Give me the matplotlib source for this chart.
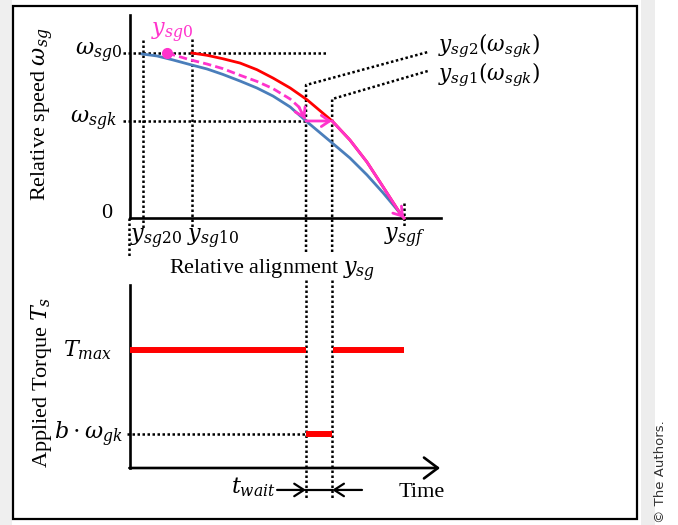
import matplotlib.pyplot as plt
from matplotlib.patches import Rectangle

plt.rcParams['font.family'] = 'Liberation Serif'
plt.rcParams['mathtext.fontset'] = 'dejavuserif'

# key positions on the alignment axis
y_sg20, y_sg0, y_sg10 = 0.42, 1.19, 1.99
y_sg2k, y_sg1k, y_sgf = 5.66, 6.50, 8.81
# speed levels
w_sg0, w_sgk = 1.0, 0.588

# blue trajectory (from y_sg20)
blue_x = [0.39, 0.87, 1.38, 1.93, 2.48, 2.99, 3.54, 4.08, 4.60, 5.15, 5.66,
          6.50, 7.07, 7.62, 8.14, 8.68, 8.81]
blue_y = [0.994, 0.982, 0.958, 0.930, 0.903, 0.870, 0.830, 0.788, 0.739, 0.673, 0.588,
          0.455, 0.364, 0.261, 0.152, 0.030, 0.0]
# red trajectory (from y_sg10)
red_x = [1.99, 2.48, 2.99, 3.54, 4.08, 4.60, 5.15, 5.69, 6.50, 7.07, 7.62, 8.14, 8.68, 8.81]
red_y = [1.0, 0.986, 0.965, 0.939, 0.899, 0.848, 0.788, 0.717, 0.588, 0.473, 0.339,
         0.188, 0.030, 0.0]
# magenta dashed path from y_sg0 down to the blue curve
dash_x = [1.19, 1.93, 2.48, 2.99, 3.54, 4.08, 4.60, 5.15, 5.43, 5.63]
dash_y = [1.0, 0.959, 0.933, 0.905, 0.865, 0.828, 0.784, 0.721, 0.673, 0.600]
# magenta solid path riding the red curve after the wait
pink_x = red_x[8:]
pink_y = red_y[8:]

# torque schedule
t_on1 = [0.0, y_sg2k]
t_on2 = [6.53, y_sgf]
t_wait = [y_sg2k, y_sg1k]
T_max, b_wgk = 1.0, 0.288

BLUE = '#4a7ebb'
RED = '#ff0000'
PINK = '#ff33cc'
DOT = dict(color='black', lw=1.8, ls=(0, (1, 1)), clip_on=False, zorder=1)

fig = plt.figure(figsize=(6.78, 5.25), dpi=100)
W, H = 678, 525

# page shading and frame
fig.patches.append(Rectangle((0, 0), 12 / W, 1, transform=fig.transFigure,
                             fc='#efefef', ec='none', zorder=0))
fig.patches.append(Rectangle((641 / W, 0), 14 / W, 1, transform=fig.transFigure,
                             fc='#ededed', ec='none', zorder=0))
fig.patches.append(Rectangle((13 / W, 6 / H), 624 / W, 513 / H, transform=fig.transFigure,
                             fill=False, ec='black', lw=1.6, zorder=1))
fig.text(661 / W, (H - 472) / H, '\u00a9 The Authors.', rotation=90, ha='center',
         va='center', fontsize=9.5, family='DejaVu Sans', color='#333333')

# ---------- speed vs alignment ----------
ax1 = fig.add_axes([130 / W, (H - 218) / H, 311 / W, 203 / H])
ax1.set_xlim(0, 10)
ax1.set_ylim(0, 203 / 165)
ax1.axis('off')

ax1.plot([0, 0], [0, 203 / 165], color='black', lw=1.9, clip_on=False)
ax1.plot([0, 10], [0, 0], color='black', lw=1.9, clip_on=False)

ax1.plot([-0.23, 6.33], [w_sg0, w_sg0], **DOT)
ax1.plot([-0.23, y_sg2k], [w_sgk, w_sgk], **DOT)
ax1.plot([y_sg20, y_sg20], [1.079, -0.073], **DOT)
ax1.plot([-0.03, -0.03], [0, -0.245], **DOT)
ax1.plot([y_sg10, y_sg10], [1.085, -0.055], **DOT)
ax1.plot([y_sg2k, y_sg2k, 9.58], [-0.206, 0.806, 1.006], **DOT)
ax1.plot([y_sg1k, y_sg1k, 9.58], [-0.206, 0.721, 0.891], **DOT)
ax1.plot([y_sgf, y_sgf], [0.091, -0.061], **DOT)

ax1.plot(blue_x, blue_y, color=BLUE, lw=2, clip_on=False, zorder=3)
ax1.plot(red_x, red_y, color=RED, lw=2, clip_on=False, zorder=3)
ax1.plot(dash_x, dash_y, color=PINK, lw=2, ls=(0, (3, 1.5)), clip_on=False, zorder=4)
ax1.plot(pink_x, pink_y, color=PINK, lw=2, clip_on=False, zorder=4)
ax1.plot([y_sg0], [w_sg0], 'o', color=PINK, ms=7, clip_on=False, zorder=5)

arrow_p = dict(arrowstyle='->,head_length=0.6,head_width=0.4', color=PINK, lw=2,
               shrinkA=0, shrinkB=0)
ax1.annotate('', xy=(dash_x[-1], dash_y[-1]), xytext=(dash_x[-2], dash_y[-2]),
             arrowprops=arrow_p, zorder=5)
ax1.annotate('', xy=(y_sg1k, w_sgk), xytext=(y_sg2k, w_sgk), arrowprops=arrow_p, zorder=5)
ax1.annotate('', xy=(pink_x[-1], pink_y[-1]), xytext=(pink_x[-2], pink_y[-2]),
             arrowprops=arrow_p, zorder=5)

fs = 16
ax1.text(-0.26, w_sg0, r'$\omega_{sg0}$', ha='right', va='center', fontsize=fs)
ax1.text(-0.42, w_sgk, r'$\omega_{sgk}$', ha='right', va='center', fontsize=fs)
ax1.text(-0.74, 0.03, '0', ha='center', va='center', fontsize=fs)
ax1.text(1.35, 1.12, r'$y_{sg0}$', ha='center', va='center', fontsize=fs, color=PINK)
ax1.text(0.0, -0.13, r'$y_{sg20}$', ha='left', va='center', fontsize=fs)
ax1.text(1.83, -0.13, r'$y_{sg10}$', ha='left', va='center', fontsize=fs)
ax1.text(8.84, -0.12, r'$y_{sgf}$', ha='center', va='center', fontsize=fs)
ax1.text(9.9, 1.045, r'$y_{sg2}(\omega_{sgk})$', ha='left', va='center', fontsize=15.5)
ax1.text(9.9, 0.865, r'$y_{sg1}(\omega_{sgk})$', ha='left', va='center', fontsize=15.5)
ax1.text(4.57, -0.32, r'Relative alignment $y_{sg}$', ha='center', va='center', fontsize=fs)
fig.text(43 / W, (H - 114) / H, r'Relative speed $\omega_{sg}$', rotation=90,
         ha='center', va='center', fontsize=fs)

# ---------- applied torque vs time ----------
ax2 = fig.add_axes([130 / W, (H - 468) / H, 311 / W, 188 / H])
ax2.set_xlim(0, 10)
ax2.set_ylim(0, 188 / 118)
ax2.axis('off')

ax2.plot([0, 0], [0, 1.55], color='black', lw=1.9, clip_on=False)
ax2.annotate('', xy=(9.97, 0), xytext=(-0.02, 0),
             arrowprops=dict(arrowstyle='->,head_length=1.0,head_width=0.75',
                             color='black', lw=1.9, shrinkA=0, shrinkB=0))

ax2.plot([-0.1, t_wait[0]], [b_wgk, b_wgk], **DOT)
for t in t_wait:
    ax2.plot([t, t], [1.593, -0.271], **DOT)

ax2.plot(t_on1, [T_max, T_max], color=RED, lw=4.3, solid_capstyle='butt', zorder=3)
ax2.plot(t_on2, [T_max, T_max], color=RED, lw=4.3, solid_capstyle='butt', zorder=3)
ax2.plot(t_wait, [b_wgk, b_wgk], color=RED, lw=4.3, solid_capstyle='butt', zorder=3)

y_arr = -0.186
arrow_k = dict(arrowstyle='->,head_length=0.7,head_width=0.45', color='black', lw=1.6,
               shrinkA=0, shrinkB=0)
ax2.annotate('', xy=(t_wait[0], y_arr), xytext=(4.73, y_arr), arrowprops=arrow_k,
             annotation_clip=False)
ax2.annotate('', xy=(t_wait[1], y_arr), xytext=(7.46, y_arr), arrowprops=arrow_k,
             annotation_clip=False)
ax2.plot(t_wait, [y_arr, y_arr], color='black', lw=1.6, clip_on=False)

ax2.text(-0.55, T_max, r'$T_{max}$', ha='right', va='center', fontsize=fs)
ax2.text(-0.23, b_wgk, r'$b\cdot\omega_{gk}$', ha='right', va='center', fontsize=fs)
ax2.text(4.69, y_arr + 0.02, r'$t_{wait}$', ha='right', va='center', fontsize=fs)
ax2.text(8.62, y_arr - 0.02, 'Time', ha='left', va='center', fontsize=fs)
fig.text(42 / W, (H - 382) / H, r'Applied Torque $T_s$', rotation=90,
         ha='center', va='center', fontsize=fs)

fig.savefig('out.png', dpi=100)
